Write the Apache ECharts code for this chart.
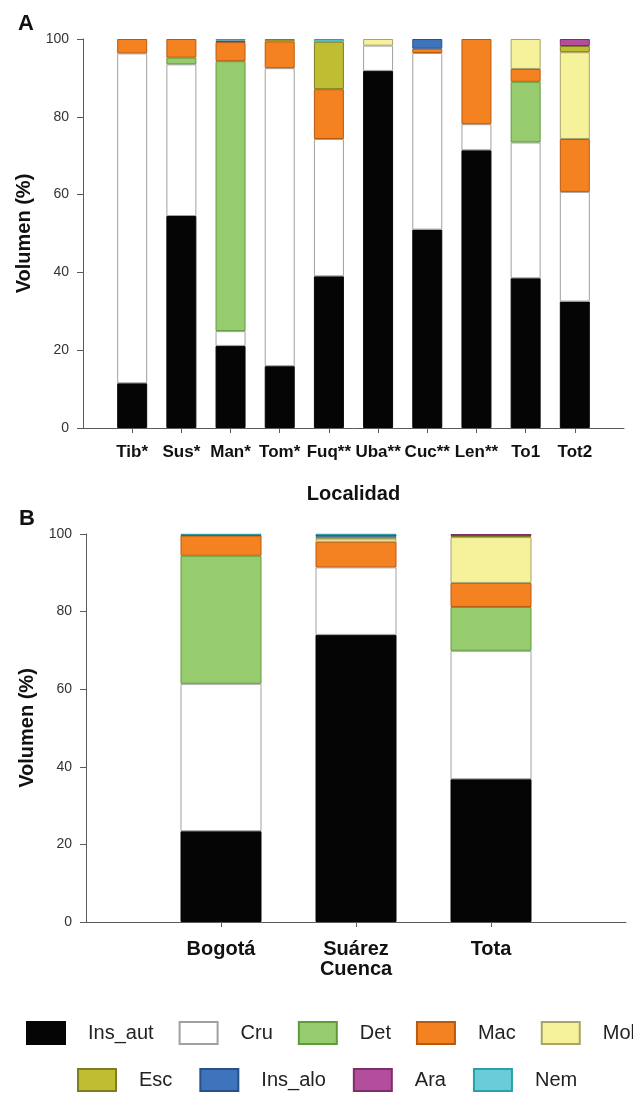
<!DOCTYPE html>
<html>
<head>
<meta charset="utf-8">
<script src="https://cdn.jsdelivr.net/npm/echarts@6/dist/echarts.min.js"></script>
<style>
html,body{margin:0;padding:0;background:#fff;}
#chart{width:633px;height:1094px;}
</style>
</head>
<body>
<div id="chart"></div>
<script>
// ---- Data ----
const seriesNames = ['Ins_aut','Cru','Det','Mac','Mol','Esc','Ins_alo','Ara','Nem'];
const legendRow1 = ['Ins_aut','Cru','Det','Mac','Mol'];
const legendRow2 = ['Esc','Ins_alo','Ara','Nem'];
const yTicks = [0,20,40,60,80,100];

// Panel A: Localidad
const catsA = ['Tib*','Sus*','Man*','Tom*','Fuq**','Uba**','Cuc**','Len**','To1','Tot2'];
const insAutA = [11.5,54.5,21.1,15.9,39.0,91.8,51.0,71.4,38.5,32.5];
const cruA    = [84.8,39.0,3.8,76.6,35.3,6.5,45.4,6.7,34.9,28.2];
const detA    = [0,1.7,69.4,0,0,0,0,0,15.6,0];
const macA    = [3.7,4.8,4.9,6.9,12.8,0,1.1,21.9,3.3,13.6];
const molA    = [0,0,0,0,0,1.7,0,0,7.7,22.3];
const escA    = [0,0,0,0.6,12.2,0,0,0,0,1.6];
const insAloA = [0,0,0,0,0,0,2.5,0,0,0];
const araA    = [0,0,0.4,0,0,0,0,0,0,1.8];
const nemA    = [0,0,0.4,0,0.7,0,0,0,0,0];

// Panel B: Cuenca
const catsB = ['Bogotá','Suárez','Tota'];
const insAutB = [23.4,74.0,36.8];
const cruB    = [38.0,17.4,33.1];
const detB    = [33.0,0,11.3];
const macB    = [5.2,6.6,6.2];
const molB    = [0,0.8,11.8];
const escB    = [0,0.5,0.3];
const insAloB = [0.2,0.5,0];
const araB    = [0,0,0.5];
const nemB    = [0.2,0.2,0];

// ---- Styles ----
const fills   = ['#050505','#ffffff','#97cc6e','#f58220','#f6f29b','#bfbe32','#3e74bc','#b44d9c','#6acbd9'];
const borders = ['#050505','#a0a0a0','#5e9a3e','#b85a10','#a8a36a','#7e7d20','#2a5088','#7d2f6a','#2aa0a8'];
const FONT = 'Liberation Sans, Arial, Helvetica, sans-serif';

const dataA = [insAutA,cruA,detA,macA,molA,escA,insAloA,araA,nemA];
const dataB = [insAutB,cruB,detB,macB,molB,escB,insAloB,araB,nemB];

// padded categories: an empty slot at each end so the axis runs past the outer bars
const padCats = cats => [''].concat(cats, ['']);
function toItems(arr){
  const items = arr.map(v => v === 0 ? {value:0, itemStyle:{borderWidth:0}} : v);
  return ['-'].concat(items, ['-']);
}

const series = [];
seriesNames.forEach((name,k)=>{
  series.push({
    name, type:'bar', stack:'A', xAxisIndex:0, yAxisIndex:0,
    barWidth:30,
    itemStyle:{color:fills[k], borderColor:borders[k], borderWidth:1},
    data: toItems(dataA[k]), emphasis:{disabled:true}
  });
});
seriesNames.forEach((name,k)=>{
  series.push({
    name, type:'bar', stack:'B', xAxisIndex:1, yAxisIndex:1,
    barWidth:81,
    itemStyle:{color:fills[k], borderColor:borders[k], borderWidth:1},
    data: toItems(dataB[k]), emphasis:{disabled:true}
  });
});

const axisLineStyle = {color:'#5a5a5a', width:1};
function yAxis(gridIndex){
  return {
    type:'value', gridIndex, min:0, max:100, interval:20,
    name:'Volumen (%)', nameLocation:'middle', nameGap:48,
    nameTextStyle:{fontFamily:FONT, fontWeight:'bold', fontSize:20, color:'#111'},
    axisLine:{show:true, lineStyle:axisLineStyle},
    axisTick:{show:true, inside:false, length:6, lineStyle:axisLineStyle},
    axisLabel:{fontFamily:FONT, fontSize:14, color:'#333', margin:14},
    splitLine:{show:false}
  };
}
function xAxis(gridIndex, cats, name, nameGap, fontSize, margin){
  return {
    type:'category', gridIndex, data:padCats(cats), boundaryGap:false,
    name, nameLocation:'middle', nameGap,
    nameTextStyle:{fontFamily:FONT, fontWeight:'bold', fontSize:20, color:'#111'},
    axisLine:{show:true, lineStyle:axisLineStyle},
    axisTick:{show:true, length:5, interval:(i,v)=>v!=='', lineStyle:axisLineStyle},
    axisLabel:{interval:0, fontFamily:FONT, fontWeight:'bold', fontSize, color:'#111', margin},
    splitLine:{show:false}
  };
}

const option = {
  animation:false,
  backgroundColor:'#fff',
  title:[
    {text:'A', left:13, top:8, textStyle:{fontFamily:FONT, fontWeight:'bold', fontSize:22, color:'#111'}},
    {text:'B', left:14, top:503, textStyle:{fontFamily:FONT, fontWeight:'bold', fontSize:22, color:'#111'}}
  ],
  grid:[
    {left:83, right:9, top:39, bottom:666},
    {left:86, right:7, top:534, bottom:172}
  ],
  xAxis:[
    xAxis(0, catsA, 'Localidad', 56, 17, 16),
    xAxis(1, catsB, 'Cuenca', 34, 20, 17)
  ],
  yAxis:[yAxis(0), yAxis(1)],
  legend:[
    {
      data:legendRow1, left:26, top:1021, width:1200, orient:'horizontal', icon:'rect', padding:0,
      itemWidth:38, itemHeight:22, itemGap:25, selectedMode:false,
      textStyle:{fontFamily:FONT, fontSize:20, color:'#222', padding:[0,0,0,18]}
    },
    {
      data:legendRow2, left:77, top:1068, width:1200, orient:'horizontal', icon:'rect', padding:0,
      itemWidth:38, itemHeight:22, itemGap:27, selectedMode:false,
      textStyle:{fontFamily:FONT, fontSize:20, color:'#222', padding:[0,0,0,18]}
    }
  ],
  series
};

const chart = echarts.init(document.getElementById('chart'), null, {renderer:'canvas'});
chart.setOption(option);
</script>
</body>
</html>
